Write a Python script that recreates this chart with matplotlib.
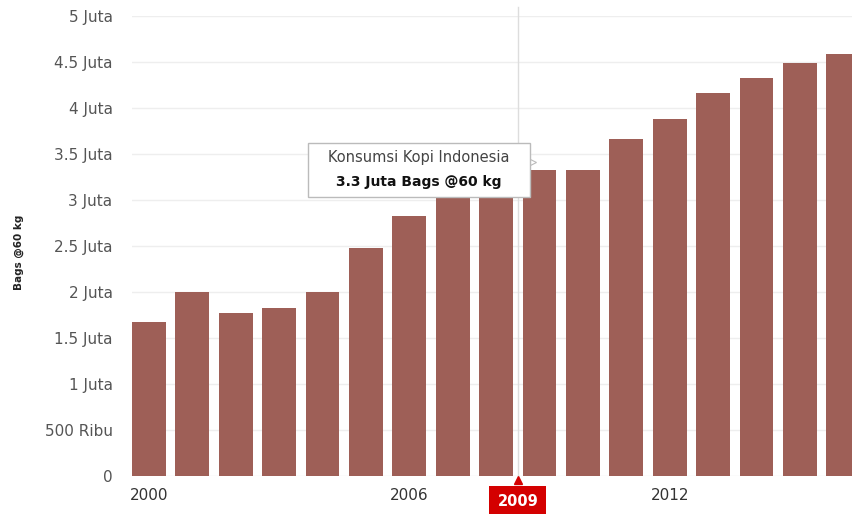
import matplotlib.pyplot as plt
from matplotlib.patches import Rectangle
import matplotlib.transforms as mtransforms

# Konsumsi kopi Indonesia, juta bags @60 kg
years = list(range(2000, 2017))
consumption = [1.67, 2.0, 1.77, 1.83, 2.0, 2.48, 2.83, 3.08, 3.3,
               3.33, 3.33, 3.66, 3.88, 4.16, 4.32, 4.49, 4.59]

ytick_vals = [0, 0.5, 1, 1.5, 2, 2.5, 3, 3.5, 4, 4.5, 5]
ytick_labels = ['0', '500 Ribu', '1 Juta', '1.5 Juta', '2 Juta', '2.5 Juta',
                '3 Juta', '3.5 Juta', '4 Juta', '4.5 Juta', '5 Juta']
xtick_vals = [2000, 2006, 2012]
hover_year = 2009

bar_color = '#9e5f57'
text_color = '#555555'

fig = plt.figure(figsize=(8.52, 5.14), dpi=100)
ax = fig.add_axes([0.155, 0.074, 0.845, 0.895])

ax.bar(years, consumption, width=0.78, color=bar_color, zorder=2)

ax.set_xlim(1999.61, 2016.2)
ax.set_ylim(0, 5)

# grid
ax.set_yticks(ytick_vals)
ax.set_yticklabels(ytick_labels)
ax.grid(axis='y', color='#eeeeee', linewidth=1, zorder=0)
ax.set_xticks(xtick_vals)
ax.set_xticklabels([str(y) for y in xtick_vals])
ax.tick_params(axis='y', length=0, pad=14, labelsize=11, labelcolor=text_color)
ax.tick_params(axis='x', length=0, pad=9, labelsize=11, labelcolor='#333333')
for s in ax.spines.values():
    s.set_visible(False)

fig.text(0.022, 0.51, 'Bags @60 kg', rotation=90, fontsize=7.5, fontweight='bold',
         ha='center', va='center', color='#222222')

# crosshair
cross_x = hover_year - 0.5
ax.plot([cross_x, cross_x], [0, 5.1], color='#dddddd', linewidth=1, zorder=3, clip_on=False)

# red x label for hovered year
trans = mtransforms.blended_transform_factory(ax.transData, ax.transAxes)
ax.text(cross_x, -0.055, str(hover_year), transform=trans, ha='center', va='center',
        fontsize=10.5, fontweight='bold', color='white', zorder=5, clip_on=False,
        bbox=dict(boxstyle='square,pad=0.55', facecolor='#d40000', edgecolor='none'))
ax.plot([cross_x], [-0.008], marker='^', color='#d40000', markersize=6, transform=trans,
        clip_on=False, zorder=5)

# tooltip
tip = Rectangle((2003.66, 3.03), 5.12, 0.59, facecolor='white', edgecolor='#bbbbbb',
                linewidth=1, zorder=6)
ax.add_patch(tip)
ax.plot([2008.85], [3.41], marker='>', color='white', markeredgecolor='#bbbbbb',
        markeredgewidth=0.8, markersize=5, zorder=5)
ax.text(2006.22, 3.46, 'Konsumsi Kopi Indonesia', ha='center', va='center',
        fontsize=10.5, color='#444444', zorder=7)
ax.text(2006.22, 3.19, '3.3 Juta Bags @60 kg', ha='center', va='center',
        fontsize=10, fontweight='bold', color='#111111', zorder=7)

fig.savefig('out.png', dpi=100)
